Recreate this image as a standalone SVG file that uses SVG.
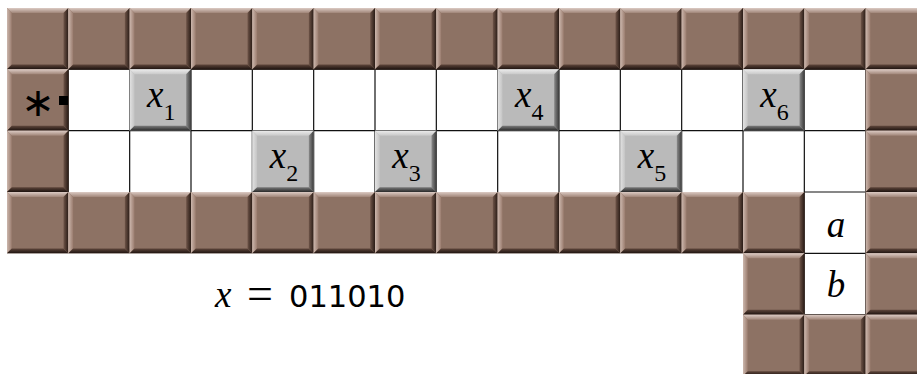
<svg xmlns="http://www.w3.org/2000/svg" xmlns:xlink="http://www.w3.org/1999/xlink" width="917" height="374" viewBox="0 0 917 374">
<style>
.grid{stroke:#111;stroke-width:1.2;fill:none}
.math{font-family:"Liberation Serif","Times New Roman",serif;font-style:italic;font-size:37px;fill:#000}
.sub{font-family:"Liberation Serif","Times New Roman",serif;font-style:normal;font-size:24px}
.rm{font-family:"Liberation Serif","Times New Roman",serif;font-style:normal;fill:#000}
.tt{font-family:"DejaVu Sans",sans-serif;font-size:30.5px;fill:#000}
</style>
<defs>
<linearGradient id="bTop" x1="0" y1="0" x2="0" y2="1"><stop offset="0" stop-color="#dccbc4"/><stop offset="1" stop-color="#a08578"/></linearGradient>
<linearGradient id="bLeft" x1="0" y1="0" x2="1" y2="0"><stop offset="0" stop-color="#ccb7ad"/><stop offset="1" stop-color="#9a7c6e"/></linearGradient>
<linearGradient id="bRight" x1="0" y1="0" x2="1" y2="0"><stop offset="0" stop-color="#6e5448"/><stop offset="1" stop-color="#2a1c16"/></linearGradient>
<linearGradient id="bBot" x1="0" y1="0" x2="0" y2="1"><stop offset="0" stop-color="#5e463b"/><stop offset="1" stop-color="#1e130f"/></linearGradient>
<linearGradient id="gTop" x1="0" y1="0" x2="0" y2="1"><stop offset="0" stop-color="#ececec"/><stop offset="1" stop-color="#c8c8c8"/></linearGradient>
<linearGradient id="gLeft" x1="0" y1="0" x2="1" y2="0"><stop offset="0" stop-color="#e2e2e2"/><stop offset="1" stop-color="#c4c4c4"/></linearGradient>
<linearGradient id="gRight" x1="0" y1="0" x2="1" y2="0"><stop offset="0" stop-color="#8a8a8a"/><stop offset="1" stop-color="#3c3c3c"/></linearGradient>
<linearGradient id="gBot" x1="0" y1="0" x2="0" y2="1"><stop offset="0" stop-color="#7a7a7a"/><stop offset="1" stop-color="#2a2a2a"/></linearGradient>
<g id="brick">
<rect x="0" y="0" width="61.33" height="61.33" fill="#8d7264"/>
<polygon points="0,0 61.33,0 56.5,5 4.8,5" fill="url(#bTop)"/>
<polygon points="0,0 4.8,5 4.8,56.5 0,61.33" fill="url(#bLeft)"/>
<polygon points="61.33,0 61.33,61.33 56.5,56.5 56.5,5" fill="url(#bRight)"/>
<polygon points="0,61.33 61.33,61.33 56.5,56.5 4.8,56.5" fill="url(#bBot)"/>
</g>
<g id="gtile">
<rect x="0" y="0" width="61.33" height="61.33" fill="#bababa"/>
<polygon points="0,0 61.33,0 56.5,5 4.8,5" fill="url(#gTop)"/>
<polygon points="0,0 4.8,5 4.8,56.5 0,61.33" fill="url(#gLeft)"/>
<polygon points="61.33,0 61.33,61.33 56.5,56.5 56.5,5" fill="url(#gRight)"/>
<polygon points="0,61.33 61.33,61.33 56.5,56.5 4.8,56.5" fill="url(#gBot)"/>
</g>
</defs>
<rect width="917" height="374" fill="#fff"/>
<g id="grid-lines" class="grid">
<path d="M68.33,69.33H865.67 M68.33,130.67H865.67 M804.33,192H865.67 M804.33,253.33H865.67 M804.33,314.67H865.67"/>
<path d="M68.33,69.33V192 M129.67,69.33V192 M191,69.33V192 M252.33,69.33V192 M313.67,69.33V192 M375,69.33V192 M436.33,69.33V192 M497.67,69.33V192 M559,69.33V192 M620.33,69.33V192 M681.67,69.33V192 M743,69.33V192 M804.33,69.33V314.67 M865.67,69.33V314.67"/>
</g>
<g id="walls">
<use xlink:href="#brick" x="7" y="8"/><use xlink:href="#brick" x="68.33" y="8"/><use xlink:href="#brick" x="129.67" y="8"/><use xlink:href="#brick" x="191" y="8"/><use xlink:href="#brick" x="252.33" y="8"/><use xlink:href="#brick" x="313.67" y="8"/><use xlink:href="#brick" x="375" y="8"/><use xlink:href="#brick" x="436.33" y="8"/><use xlink:href="#brick" x="497.67" y="8"/><use xlink:href="#brick" x="559" y="8"/><use xlink:href="#brick" x="620.33" y="8"/><use xlink:href="#brick" x="681.67" y="8"/><use xlink:href="#brick" x="743" y="8"/><use xlink:href="#brick" x="804.33" y="8"/><use xlink:href="#brick" x="865.67" y="8"/>
<use xlink:href="#brick" x="7" y="69.33"/><use xlink:href="#brick" x="865.67" y="69.33"/>
<use xlink:href="#brick" x="7" y="130.67"/><use xlink:href="#brick" x="865.67" y="130.67"/>
<use xlink:href="#brick" x="7" y="192"/><use xlink:href="#brick" x="68.33" y="192"/><use xlink:href="#brick" x="129.67" y="192"/><use xlink:href="#brick" x="191" y="192"/><use xlink:href="#brick" x="252.33" y="192"/><use xlink:href="#brick" x="313.67" y="192"/><use xlink:href="#brick" x="375" y="192"/><use xlink:href="#brick" x="436.33" y="192"/><use xlink:href="#brick" x="497.67" y="192"/><use xlink:href="#brick" x="559" y="192"/><use xlink:href="#brick" x="620.33" y="192"/><use xlink:href="#brick" x="681.67" y="192"/><use xlink:href="#brick" x="743" y="192"/><use xlink:href="#brick" x="865.67" y="192"/>
<use xlink:href="#brick" x="743" y="253.33"/><use xlink:href="#brick" x="865.67" y="253.33"/>
<use xlink:href="#brick" x="743" y="314.67"/><use xlink:href="#brick" x="804.33" y="314.67"/><use xlink:href="#brick" x="865.67" y="314.67"/>
</g>
<g id="start">
<text x="38" y="116" font-family="DejaVu Sans, sans-serif" font-size="40" text-anchor="middle" fill="#000">∗</text>
<rect x="59" y="96" width="9" height="9" fill="#000"/>
</g>
<g id="x1"><use xlink:href="#gtile" x="129.67" y="69.33"/><text class="math" x="147" y="107">x<tspan class="sub" dy="13">1</tspan></text></g>
<g id="x2"><use xlink:href="#gtile" x="252.33" y="130.67"/><text class="math" x="269.7" y="168.3">x<tspan class="sub" dy="13">2</tspan></text></g>
<g id="x3"><use xlink:href="#gtile" x="375" y="130.67"/><text class="math" x="392.3" y="168.3">x<tspan class="sub" dy="13">3</tspan></text></g>
<g id="x4"><use xlink:href="#gtile" x="497.67" y="69.33"/><text class="math" x="515" y="107">x<tspan class="sub" dy="13">4</tspan></text></g>
<g id="x5"><use xlink:href="#gtile" x="620.33" y="130.67"/><text class="math" x="637.7" y="168.3">x<tspan class="sub" dy="13">5</tspan></text></g>
<g id="x6"><use xlink:href="#gtile" x="743" y="69.33"/><text class="math" x="760.3" y="107">x<tspan class="sub" dy="13">6</tspan></text></g>
<g id="cell-a"><text class="math" x="836" y="237" text-anchor="middle">a</text></g>
<g id="cell-b"><text class="math" x="836" y="297" text-anchor="middle">b</text></g>
<g id="equation">
<text class="math" x="215" y="307">x</text>
<text class="rm" x="247" y="309" font-size="46">=</text>
<text class="tt" x="289" y="307">011010</text>
</g>
</svg>
